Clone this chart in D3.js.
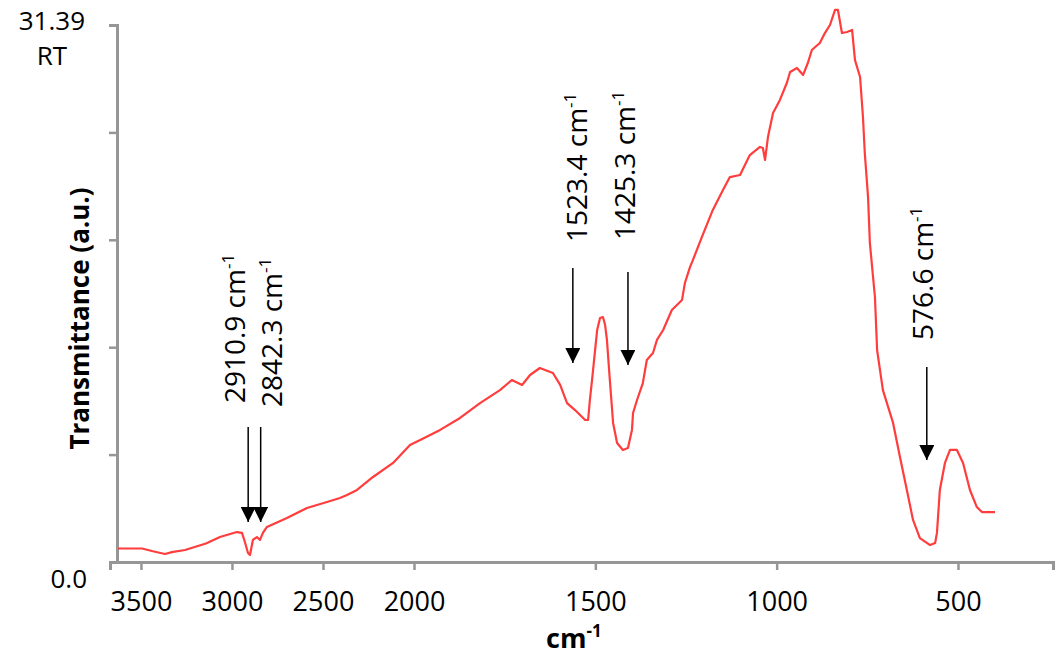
<!DOCTYPE html>
<html>
<head>
<meta charset="utf-8">
<script src="https://cdn.jsdelivr.net/npm/d3@7"></script>
<style>
  body { margin: 0; background: #fff; }
  text { font-family: "Open Sans", sans-serif; fill: #000; }
</style>
</head>
<body>
<div id="chart"></div>
<script>
const width = 1056;
const height = 656;

// spectrum (cm-1, transmittance)
const wavenumber = [3626, 3494, 3440, 3368, 3330, 3258, 3143, 3066, 2973, 2945, 2929, 2912, 2901, 2885, 2863, 2846, 2830, 2808,
    2698, 2588, 2478, 2407, 2368, 2313, 2225, 2115, 2022, 1983, 1928, 1873, 1818, 1763, 1730, 1702, 1680, 1653, 1617, 1597,
    1578, 1556, 1528, 1520, 1515, 1509, 1495, 1487, 1479, 1473, 1468, 1460, 1451, 1440, 1424, 1410, 1399, 1396, 1385, 1369,
    1358, 1341, 1330, 1313, 1289, 1261, 1253, 1239, 1231, 1206, 1176, 1148, 1129, 1101, 1074, 1046, 1038, 1032, 1024, 1010,
    991, 972, 963, 944, 927, 914, 903, 881, 867, 853, 839, 831, 820, 806, 792, 784, 770, 762, 757, 748, 743, 729, 723, 707,
    679, 660, 641, 624, 605, 577, 563, 558, 550, 536, 522, 503, 486, 467, 448, 434, 398];
const transmittance = [0.79, 0.79, 0.64, 0.47, 0.58, 0.70, 1.08, 1.46, 1.75, 1.70, 1.17, 0.53, 0.41, 1.29, 1.46, 1.29, 1.70, 2.05,
    2.57, 3.16, 3.51, 3.74, 3.92, 4.21, 4.97, 5.79, 6.84, 7.13, 7.72, 8.42, 9.29, 10.05, 10.64, 10.35, 10.93, 11.34, 11.05, 10.35,
    9.29, 8.88, 8.30, 8.30, 9.47, 10.64, 13.56, 14.26, 14.32, 13.85, 12.98, 10.64, 8.13, 6.96, 6.55, 6.66, 7.72, 8.71, 9.47, 10.46,
    11.81, 12.22, 12.98, 13.56, 14.73, 15.31, 16.31, 17.24, 17.65, 19.00, 20.58, 21.74, 22.50, 22.62, 23.79, 24.26, 24.20, 23.50, 24.84, 26.25,
    27.01, 28.00, 28.64, 28.88, 28.47, 29.17, 29.93, 30.34, 30.92, 31.39, 32.27, 32.27, 30.92, 30.98, 31.10, 29.34, 28.35, 26.01, 23.91, 21.34, 18.65, 15.49, 12.39, 10.05,
    8.13, 6.14, 4.21, 2.46, 1.40, 0.99, 1.11, 1.70, 4.21, 5.79, 6.55, 6.55, 5.79, 4.21, 3.21, 2.92, 2.92];

const xTicks = [3500, 3000, 2500, 2000, 1500, 1000, 500];
const yMax = 31.39;

// peak annotations
const peakLabels = ["2910.9", "2842.3", "1523.4", "1425.3", "576.6"];
const arrowWn = [2910.9, 2842.3, 1562, 1410, 586];
const arrowTop = [7.89, 7.89, 17.19, 16.95, 11.40];
const arrowTip = [2.34, 2.34, 11.63, 11.52, 5.96];
const labelWn = [2929, 2725, 1523, 1391, 569];
const labelT = [9.29, 9.06, 18.71, 18.82, 12.98];

const svg = d3.select("#chart").append("svg").attr("width", width).attr("height", height);

// x axis is expanded 2x below 2000 cm-1
const x = d3.scaleLinear().domain([3670, 2000, 238]).range([110, 414, 1053]);
const y = d3.scaleLinear().domain([0, yMax]).range([562, 25]);

svg.append("defs").append("marker")
    .attr("id", "head")
    .attr("viewBox", "0 0 10 10")
    .attr("refX", 10).attr("refY", 5)
    .attr("markerUnits", "userSpaceOnUse")
    .attr("markerWidth", 15).attr("markerHeight", 15)
    .attr("orient", "auto")
    .append("path").attr("d", "M0,0L10,5L0,10Z").attr("fill", "#000");

const xAxis = svg.append("g")
    .attr("transform", `translate(0,${y(0)})`)
    .call(d3.axisBottom(x).tickValues(xTicks).tickSize(8).tickSizeOuter(8).tickPadding(22).tickFormat(d3.format("d")));

const yAxis = svg.append("g")
    .attr("transform", "translate(117,0)")
    .call(d3.axisLeft(y).tickValues(d3.range(0, 6).map(i => i * yMax / 5)).tickSize(8).tickSizeOuter(8).tickFormat(""));

[xAxis, yAxis].forEach(g => {
    g.select(".domain").attr("stroke", "#969696").attr("stroke-width", 3);
    g.selectAll(".tick line").attr("stroke", "#969696").attr("stroke-width", 2.5);
});
xAxis.selectAll(".tick text").style("font-size", "27px").attr("fill", "#000");

const points = wavenumber.map((wn, i) => ({ wn: wn, t: transmittance[i] }));
const line = d3.line().x(d => x(d.wn)).y(d => y(d.t));

svg.append("path")
    .datum(points)
    .attr("d", line)
    .attr("fill", "none")
    .attr("stroke", "#ff3d3d")
    .attr("stroke-width", 2.2)
    .attr("stroke-linejoin", "round");

// arrows
svg.selectAll(".arrow")
    .data(peakLabels)
    .enter()
    .append("line")
    .attr("class", "arrow")
    .attr("x1", (d, i) => x(arrowWn[i]))
    .attr("x2", (d, i) => x(arrowWn[i]))
    .attr("y1", (d, i) => y(arrowTop[i]))
    .attr("y2", (d, i) => y(arrowTip[i]))
    .attr("stroke", "#000")
    .attr("stroke-width", 1.5)
    .attr("marker-end", "url(#head)");

const labels = svg.selectAll(".peak")
    .data(peakLabels)
    .enter()
    .append("text")
    .attr("class", "peak")
    .attr("transform", (d, i) => `translate(${x(labelWn[i])},${y(labelT[i])}) rotate(-90)`)
    .style("font-size", "28px");
labels.append("tspan").text(d => d + " cm");
labels.append("tspan").attr("dy", -11).style("font-size", "17px").text("-1");

// y axis end labels
svg.append("text").attr("x", 85).attr("y", y(yMax) + 5).attr("text-anchor", "end").style("font-size", "26px").text("31.39");
svg.append("text").attr("x", 52).attr("y", y(yMax) + 40).attr("text-anchor", "middle").style("font-size", "26px").text("RT");
svg.append("text").attr("x", 87).attr("y", y(0) + 26).attr("text-anchor", "end").style("font-size", "26px").text("0.0");

// axis titles
svg.append("text")
    .attr("transform", `translate(89,${(y(0) + y(yMax)) / 2 + 25}) rotate(-90)`)
    .attr("text-anchor", "middle")
    .style("font-size", "26px")
    .style("font-weight", "bold")
    .text("Transmittance (a.u.)");

const xTitle = svg.append("text")
    .attr("x", 546)
    .attr("y", 648)
    .style("font-size", "27px")
    .style("font-weight", "bold");
xTitle.append("tspan").text("cm");
xTitle.append("tspan").attr("dy", -11).style("font-size", "17px").text("-1");
</script>
</body>
</html>
